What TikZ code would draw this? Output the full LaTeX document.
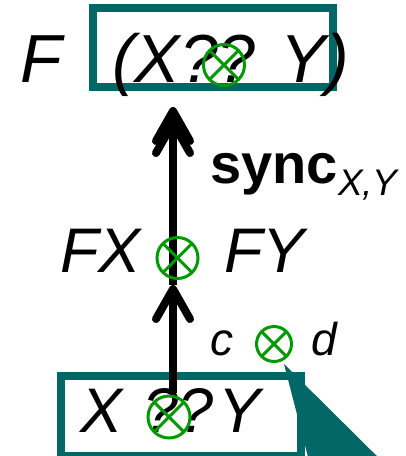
\documentclass[tikz,border=0pt]{standalone}
\usepackage{fontspec}
\setmainfont{Liberation Sans}
\usetikzlibrary{arrows.meta}
\definecolor{boxteal}{RGB}{0,102,102}
\definecolor{ogreen}{RGB}{0,153,0}
\tikzset{
  tealbox/.style={draw=boxteal, line width=8pt, fill=white, inner sep=0pt, rectangle},
  lbl/.style={anchor=base west, inner sep=0pt, outer sep=0pt},
  otimes/.style={circle, draw=ogreen, line width=3pt, inner sep=0pt, minimum size=#1,
    path picture={\draw[ogreen, line width=3pt]
      (path picture bounding box.north west) -- (path picture bounding box.south east)
      (path picture bounding box.north east) -- (path picture bounding box.south west);}},
  conn/.style={line width=8pt},
  mybarb/.tip={Straight Barb[length=30pt, width=34pt, round]},
}
\begin{document}
\begin{tikzpicture}[x=1pt, y=-1pt]
\useasboundingbox (0,0) rectangle (406,456);
\clip (0,0) rectangle (406,456);
% boxes
\node[tealbox, minimum width=240pt, minimum height=79.5pt] (topbox) at (213,47.25) {};
\node[tealbox, minimum width=240pt, minimum height=80pt] (botbox) at (181,415.5) {};
% texts
\node[lbl, font=\fontsize{68}{80}\selectfont\itshape] (F) at (20,82) {F};
\node[lbl, font=\fontsize{68}{80}\selectfont\itshape] (FXY) at (112,82) {(X?? Y)};
\node[lbl, font=\fontsize{56}{66}\selectfont\bfseries] (sync) at (210,183) {sync};
\node[lbl, font=\fontsize{37}{44}\selectfont\itshape] (sub) at (338,195) {X,Y};
\node[lbl, font=\fontsize{63}{75}\selectfont\itshape] (FX) at (60,272) {FX};
\node[lbl, font=\fontsize{63}{75}\selectfont\itshape] (FY) at (224,272) {FY};
\node[lbl, font=\fontsize{46}{55}\selectfont\itshape] (c) at (210,355) {c};
\node[lbl, font=\fontsize{46}{55}\selectfont\itshape] (d) at (311,355) {d};
\node[lbl, font=\fontsize{63}{75}\selectfont\itshape] (X) at (80,432) {X};
\node[lbl, font=\fontsize{63}{75}\selectfont\itshape] (qq) at (143,432) {??};
\node[lbl, font=\fontsize{63}{75}\selectfont\itshape] (Y) at (218,432) {Y};
% connectors
\coordinate (a0) at (173,393);
\coordinate (a1) at (173,285);
\coordinate (a2) at (173,107);
\draw[conn, -{mybarb}] (a0) -- (a1);
\draw[conn, -{Straight Barb[length=30pt, width=34pt, round, sep=-26pt] mybarb}] (a1) -- (a2);
% callout
\fill[boxteal] (284,364) -- (314,480) -- (401,480) -- cycle;
% circles
\node[otimes=41pt] (o1) at (224,65) {};
\node[otimes=41pt] (o2) at (177.5,258) {};
\node[otimes=35pt] (o3) at (274,344) {};
\node[otimes=42pt] (o4) at (169,417) {};
\end{tikzpicture}
\end{document}
